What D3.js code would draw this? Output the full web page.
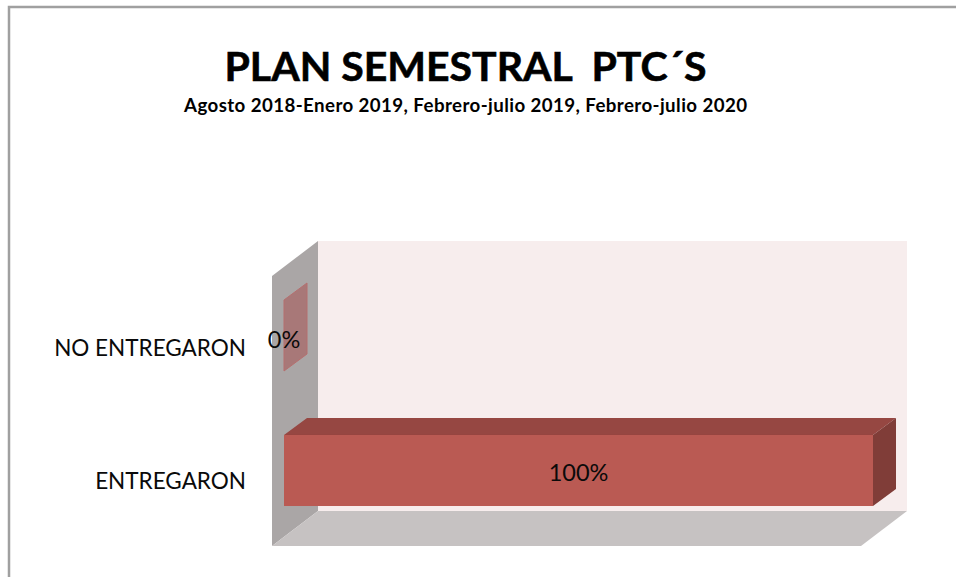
<!DOCTYPE html>
<html lang="es">
<head>
<meta charset="utf-8" />
<title>Plan semestral PTC´S</title>
<script src="https://d3js.org/d3.v7.min.js"></script>
<style>
  html, body { margin: 0; padding: 0; background: #fff; }
  svg { display: block; font-family: Lato, "Open Sans", sans-serif; }
  .axis-cat .tick text { fill: #0a0a0a; font-size: 22.5px; }
</style>
</head>
<body>
<script>
const categories = ["NO ENTREGARON", "ENTREGARON"];
const values = [0, 1];
const valueLabels = ["0%", "100%"];
const chartTitle = "PLAN SEMESTRAL  PTC´S";
const chartSubtitle = "Agosto 2018-Enero 2019, Febrero-julio 2019, Febrero-julio 2020";

const width = 956, height = 577;

// 3d depth of the box and of the bars, in px
const wallDepth = { dx: 46, dy: -35 };
const barDepth = { dx: 23, dy: -17 };

const svg = d3.select("body").append("svg")
  .attr("width", width)
  .attr("height", height);

// slight softening, the original is an upscaled bitmap
const defs = svg.append("defs");
defs.append("filter").attr("id", "soft")
  .append("feGaussianBlur").attr("stdDeviation", 0.6);

// frame of the picture, only top and left show
svg.append("path")
  .attr("d", "M9,577V7H956")
  .attr("fill", "none")
  .attr("stroke", "#a0a0a0")
  .attr("stroke-width", 2.5);

const x = d3.scaleLinear().domain([0, 1]).range([284, 873]);
const y = d3.scaleBand().domain(categories).range([268, 538]).paddingInner(0.474).paddingOuter(0.237);

const poly = pts => d3.line()(pts) + "Z";

// box walls
const wx0 = 272, wx1 = 861, wy0 = 276, wy1 = 546;
const box = svg.append("g").attr("filter", "url(#soft)");

box.append("path") // back wall
  .attr("d", poly([
    [wx0 + wallDepth.dx, wy0 + wallDepth.dy],
    [wx1 + wallDepth.dx, wy0 + wallDepth.dy],
    [wx1 + wallDepth.dx, wy1 + wallDepth.dy],
    [wx0 + wallDepth.dx, wy1 + wallDepth.dy]
  ]))
  .attr("fill", "#f7eded");

box.append("path") // side wall
  .attr("d", poly([
    [wx0, wy0],
    [wx0 + wallDepth.dx, wy0 + wallDepth.dy],
    [wx0 + wallDepth.dx, wy1 + wallDepth.dy],
    [wx0, wy1]
  ]))
  .attr("fill", "#aaa6a6");

box.append("path") // floor
  .attr("d", poly([
    [wx0, wy1],
    [wx0 + wallDepth.dx, wy1 + wallDepth.dy],
    [wx1 + wallDepth.dx, wy1 + wallDepth.dy],
    [wx1, wy1]
  ]))
  .attr("fill", "#c6c2c2");

// bars: top, side and front faces
const bars = svg.append("g").attr("filter", "url(#soft)")
  .selectAll("g")
  .data(categories.map((c, i) => ({ c, v: values[i], label: valueLabels[i] })))
  .join("g");

bars.filter(d => d.v === 0).append("path") // a zero bar is only its sheet
  .attr("d", d => {
    const y0 = y(d.c), y1 = y0 + y.bandwidth(), x0 = x(0);
    return poly([
      [x0, y0], [x0 + barDepth.dx, y0 + barDepth.dy],
      [x0 + barDepth.dx, y1 + barDepth.dy], [x0, y1]
    ]);
  })
  .attr("fill", "#a87878")
  .attr("stroke", "#b56f6f")
  .attr("stroke-width", 1);

const solid = bars.filter(d => d.v > 0);

solid.append("path")
  .attr("d", d => {
    const y0 = y(d.c), x0 = x(0), x1 = x(d.v);
    return poly([
      [x0, y0], [x0 + barDepth.dx, y0 + barDepth.dy],
      [x1 + barDepth.dx, y0 + barDepth.dy], [x1, y0]
    ]);
  })
  .attr("fill", "#964642");

solid.append("path")
  .attr("d", d => {
    const y0 = y(d.c), y1 = y0 + y.bandwidth(), x1 = x(d.v);
    return poly([
      [x1, y0], [x1 + barDepth.dx, y0 + barDepth.dy],
      [x1 + barDepth.dx, y1 + barDepth.dy], [x1, y1]
    ]);
  })
  .attr("fill", "#803d38");

solid.append("rect")
  .attr("x", x(0))
  .attr("y", d => y(d.c))
  .attr("width", d => x(d.v) - x(0))
  .attr("height", y.bandwidth())
  .attr("fill", "#ba5a53");

// value labels
svg.append("g")
  .selectAll("text")
  .data(categories.map((c, i) => ({ c, v: values[i], label: valueLabels[i] })))
  .join("text")
  .attr("x", d => (x(0) + x(d.v)) / 2)
  .attr("y", d => y(d.c) + y.bandwidth() / 2 + (d.v === 0 ? 12 : 10))
  .attr("text-anchor", "middle")
  .attr("font-size", 23.5)
  .attr("fill", "#0a0a0a")
  .text(d => d.label);

// category axis, the upper label sits 2px lower in the original
svg.append("g")
  .attr("class", "axis-cat")
  .attr("transform", "translate(246,11)")
  .call(d3.axisLeft(y).tickSize(0).tickPadding(0))
  .call(g => g.attr("font-family", null).attr("font-size", null))
  .call(g => g.select(".domain").remove())
  .call(g => g.selectAll(".tick text").attr("x", 0).attr("y", (d, i) => i === 0 ? 2 : 0));

// titles
svg.append("text")
  .attr("x", 465.5).attr("y", 81)
  .attr("text-anchor", "middle")
  .attr("font-size", 41)
  .attr("font-weight", 700)
  .attr("fill", "#000")
  .attr("stroke", "#000")
  .attr("stroke-width", 0.6)
  .style("white-space", "pre")
  .text(chartTitle);

svg.append("text")
  .attr("x", 465.5).attr("y", 112)
  .attr("text-anchor", "middle")
  .attr("font-size", 18.7)
  .attr("font-weight", 700)
  .attr("textLength", 563)
  .attr("lengthAdjust", "spacing")
  .attr("fill", "#000")
  .text(chartSubtitle);
</script>
</body>
</html>
